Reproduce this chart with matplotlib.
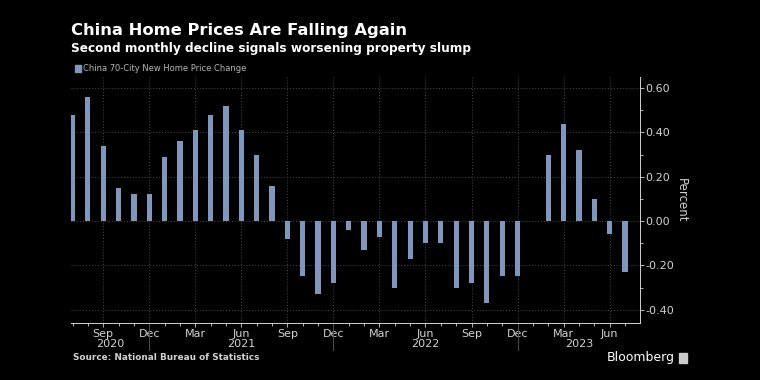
import pandas as pd
from matplotlib import pyplot as plt
from matplotlib.patches import Rectangle

# monthly change, Jul 2020 .. Jul 2023
dates = pd.date_range('2020-07-01', '2023-07-01', freq='MS')
values = [0.48, 0.56, 0.34, 0.15, 0.12, 0.12, 0.29, 0.36, 0.41, 0.48,
          0.52, 0.41, 0.30, 0.16, -0.08, -0.25, -0.33, -0.28, -0.04, -0.13,
          -0.07, -0.30, -0.17, -0.10, -0.10, -0.30, -0.28, -0.37, -0.25, -0.25,
          0.00, 0.30, 0.44, 0.32, 0.10, -0.06, -0.23]
yticks = [-0.4, -0.2, 0.0, 0.2, 0.4, 0.6]
series_name = "China 70-City New Home Price Change"

bg = '#000000'
bar_col = '#7f97bd'
grid_col = '#4a4a4a'
txt_col = '#d2d2d2'

fig = plt.figure(figsize=(7.6, 3.8), dpi=100, facecolor=bg)
ax = fig.add_axes([71/760, 1-323/380, (640-71)/760, (323-77)/380], facecolor=bg)

x = list(range(len(values)))
ax.bar(x, values, width=0.34, color=bar_col, zorder=3)

# y axis on the right
ax.yaxis.tick_right()
ax.set_yticks(yticks)
ax.set_yticklabels(['%.2f' % v for v in yticks])
ax.set_yticks([v + 0.1 for v in yticks[:-1]], minor=True)
ax.tick_params(axis='y', which='major', colors=txt_col, labelsize=8, length=3, width=0.6, pad=1)
ax.tick_params(axis='y', which='minor', colors=txt_col, length=2, width=0.6)
ax.yaxis.set_label_position('right')
ax.set_ylabel('Percent', color=txt_col, fontsize=8.5, rotation=270, labelpad=10)

# month ticks
major = [i for i, d in enumerate(dates) if d.month in (3, 6, 9, 12)]
ax.set_xticks(major)
ax.set_xticklabels([dates[i].strftime('%b') for i in major])
ax.set_xticks(x, minor=True)
ax.tick_params(axis='x', which='major', colors=txt_col, labelsize=8, length=3, width=0.6, pad=1)
ax.tick_params(axis='x', which='minor', colors=txt_col, length=2.5, width=0.6)

# limits after the ticks (set_ticks can widen the view)
ax.set_xlim(-0.1, len(values) - 0.02)
ax.set_ylim(-0.46, 0.65)

ax.grid(True, which='major', color=grid_col, linestyle=(0, (1, 2)), linewidth=0.7, zorder=0)

for s in ['top', 'left']:
    ax.spines[s].set_visible(False)
for s in ['bottom', 'right']:
    ax.spines[s].set_color(txt_col)
    ax.spines[s].set_linewidth(0.7)

# year labels and separators
dec_idx = [i for i, d in enumerate(dates) if d.month == 12]
edges = [ax.get_xlim()[0]] + dec_idx + [ax.get_xlim()[1]]
years = sorted(set(d.year for d in dates))
for yr, a, b in zip(years, edges[:-1], edges[1:]):
    ax.text((a + b) / 2, -0.085, str(yr), transform=ax.get_xaxis_transform(),
            ha='center', va='center', color=txt_col, fontsize=8)
for i in dec_idx:
    ax.plot([i, i], [0, -0.11], transform=ax.get_xaxis_transform(),
            color=grid_col, linewidth=0.8, clip_on=False)

# titles
fig.text(71/760, 1-35/380, "China Home Prices Are Falling Again", color='white',
         fontsize=11.8, fontweight='bold', va='baseline')
fig.text(71/760, 1-52/380, "Second monthly decline signals worsening property slump",
         color='white', fontsize=8.7, fontweight='bold', va='baseline')

# legend
fig.patches.append(Rectangle((75/760, 1-72/380), 6/760, 7/380, transform=fig.transFigure,
                             color=bar_col, figure=fig))
fig.text(83/760, 1-68.5/380, series_name, color='#b5b5b5', fontsize=6.7,
         fontstretch='condensed', va='center')

fig.text(73/760, 1-358/380, "Source: National Bureau of Statistics", color=txt_col,
         fontsize=6.4, fontweight='bold', va='center')
fig.text(675/760, 1-358/380, "Bloomberg", color='white', fontsize=9, ha='right', va='center')
fig.patches.append(Rectangle((679/760, 1-363/380), 8/760, 10/380, transform=fig.transFigure,
                             color='#cccccc', figure=fig))

fig.savefig('out.png', dpi=100, facecolor=bg)
